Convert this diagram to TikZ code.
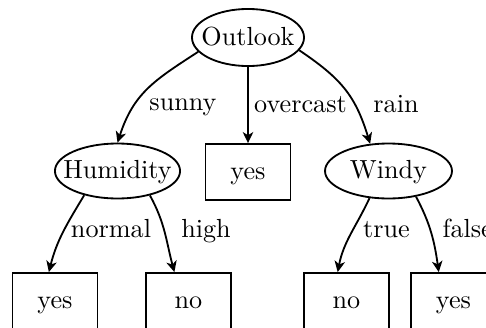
\documentclass[tikz,border=0pt]{standalone}
\usetikzlibrary{shapes.geometric,arrows.meta}
\begin{document}
\begin{tikzpicture}[x=0.382pt,y=0.382pt,
  every node/.style={font=\fontsize{10}{12}\selectfont},
  dec/.style={ellipse,draw,line width=0.7pt,inner sep=0pt,text height=7.2pt,text depth=1.1pt,minimum height=21pt},
  leaf/.style={rectangle,draw,line width=0.7pt,minimum width=32.5pt,minimum height=21.4pt,inner sep=0pt,text height=7.2pt,text depth=1.1pt},
  arr/.style={line width=0.7pt,-{Stealth[length=4.2pt,width=4pt,inset=1.2pt]}},
  lbl/.style={inner sep=0pt,anchor=base}]
\useasboundingbox (0,0) rectangle (486,-327);
\fill[white] (0,0) rectangle (486,-327);
\clip (0,0) rectangle (486,-327);
% decision nodes
\node[dec,minimum width=42.8pt,minimum height=21.8pt] (outlook) at (248,-37.5) {\makebox[0pt]{Outlook}};
\node[dec,minimum width=47.8pt] (hum) at (117.5,-171) {\makebox[0pt]{Humidity}};
\node[dec,minimum width=48.5pt] (windy) at (388.5,-171) {\makebox[0pt]{Windy}};
% leaves
\node[leaf] (yes0) at (248,-172) {yes};
\node[leaf] (yes1) at (55,-301) {yes};
\node[leaf] (no1) at (188.5,-301) {no};
\node[leaf] (no2) at (346.5,-301) {no};
\node[leaf] (yes2) at (453.5,-301) {yes};
% connectors
\draw[arr] (outlook.196) to[out=213,in=72,looseness=1.1] (hum.north);
\draw[arr] (outlook.south) -- (yes0.north);
\draw[arr] (outlook.346) to[out=326,in=107,looseness=1.1] (windy.124);
\draw[arr] (hum.216) to[out=239,in=76] (yes1.102);
\draw[arr] (hum.323) to[out=299,in=105] (no1.116);
\draw[arr] (windy.235) to[out=245,in=79] (no2.107);
\draw[arr] (windy.317) to[out=298,in=98] (yes2.117);
% labels
\node[lbl] (lsunny) at (183,-110) {sunny};
\node[lbl] (lover) at (300.5,-112) {overcast};
\node[lbl] (lrain) at (396,-112.5) {rain};
\node[lbl] (lnormal) at (111,-237) {normal};
\node[lbl] (lhigh) at (206,-237) {high};
\node[lbl] (ltrue) at (386.5,-237) {true};
\node[lbl,anchor=base west] (lfalse) at (442,-237) {false};
\end{tikzpicture}
\end{document}
